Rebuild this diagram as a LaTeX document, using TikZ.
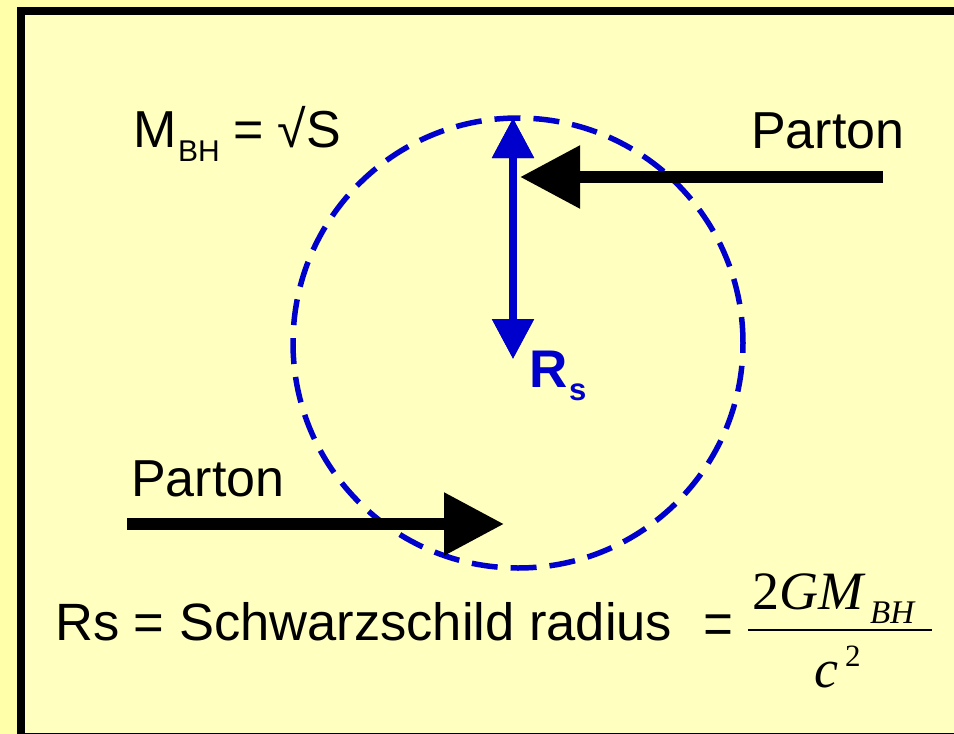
\documentclass[tikz,border=0pt]{standalone}
\usepackage{fontspec}
\setmainfont{Liberation Sans}
\newfontfamily\tms{Liberation Serif}
\usetikzlibrary{arrows.meta}
\definecolor{outerbg}{RGB}{255,255,170}
\definecolor{innerbg}{RGB}{255,255,192}
\definecolor{rsblue}{RGB}{0,0,204}
\begin{document}
\begin{tikzpicture}[x=1pt,y=-1pt,
  big/.style={inner sep=0pt, anchor=base west, font=\fontsize{52}{60}\selectfont},
  small/.style={inner sep=0pt, anchor=base west, font=\fontsize{30}{36}\selectfont},
  parton/.style={line width=12pt, -{Triangle[length=60pt,width=60pt]}},
  radiusarrow/.style={rsblue, line width=8pt,
     {Triangle[length=40pt,width=40pt]}-{Triangle[length=40pt,width=40pt]}},
]
\fill[outerbg] (0,0) rectangle (954,734);
\useasboundingbox (0,0) rectangle (954,734);
\draw[line width=8pt, fill=innerbg] (21,11) rectangle (960,737);

% event horizon
\node[circle, draw=rsblue, line width=5.5pt, dash pattern=on 26pt off 13pt,
      inner sep=0pt, minimum size=450pt] (horizon) at (518,343) {};

% radius arrow
\coordinate (rtop) at (513,118);
\coordinate (rbot) at (513,359);
\draw[radiusarrow] (rbot) -- (rtop);
\draw[radiusarrow] (rtop) -- (rbot);

% partons
\coordinate (p1start) at (883,177);
\coordinate (p1tip) at (520,177);
\draw[parton] (p1start) -- (p1tip);
\coordinate (p2start) at (127,524);
\coordinate (p2tip) at (504,524);
\draw[parton] (p2start) -- (p2tip);

% labels
\node[big] (parton1) at (751,148) {Parton};
\node[big] (parton2) at (131,496) {Parton};

\node[big] (mbh) at (133,147) {M};
\node[small] (mbhsub) at (178,161) {BH};
\node[big] (mbheq) at (233,147) {= √S};

\node[big, text=rsblue, font=\fontsize{53}{60}\selectfont\bfseries] (rslbl) at (529,387) {R};
\node[small, text=rsblue, font=\fontsize{31}{36}\selectfont\bfseries] (rssub) at (569,400) {s};

\node[big, font=\fontsize{52.5}{60}\selectfont] (rsdef) at (55,640) {Rs = Schwarzschild radius};

% formula
\node[big, font=\fontsize{78}{80}\selectfont\tms] (feq) at (703,650) {\scalebox{0.68}[1]{=}};
\node[big, font=\fontsize{54}{60}\selectfont\tms] (fnum) at (752,609) {2\textit{GM}};
\node[small, font=\fontsize{33}{36}\selectfont\tms\itshape] (fsub) at (870,623) {BH};
\draw[line width=2.5pt] (748,630) -- (932,630);
\node[big, font=\fontsize{54}{60}\selectfont\tms\itshape] (fden) at (814,687) {c};
\node[small, font=\fontsize{31}{36}\selectfont\tms] (fsup) at (845,666) {2};
\end{tikzpicture}
\end{document}
